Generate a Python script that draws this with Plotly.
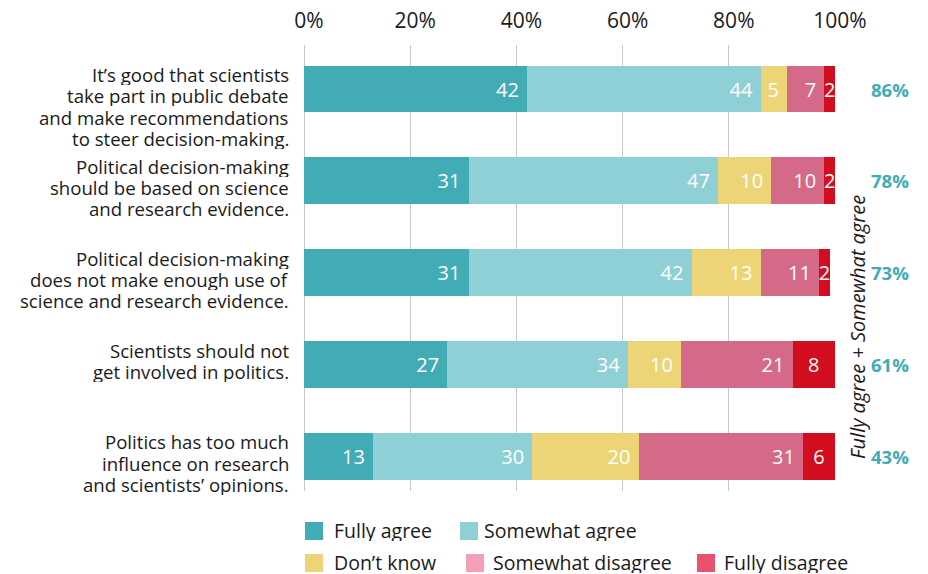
import plotly.graph_objects as go

# Survey statements (top to bottom), one list entry per printed line
statements = [
    ["It’s good that scientists", "take part in public debate",
     "and make recommendations", "to steer decision-making."],
    ["Political decision-making", "should be based on science",
     "and research evidence."],
    ["Political decision-making", "does not make enough use of",
     "science and research evidence."],
    ["Scientists should not", "get involved in politics."],
    ["Politics has too much", "influence on research",
     "and scientists’ opinions."],
]
row_ids = ["s1", "s2", "s3", "s4", "s5"]

# Response shares (%)
fully_agree = [42, 31, 31, 27, 13]
somewhat_agree = [44, 47, 42, 34, 30]
dont_know = [5, 10, 13, 10, 20]
somewhat_disagree = [7, 10, 11, 21, 31]
fully_disagree = [2, 2, 2, 8, 6]

# Fully agree + Somewhat agree
agree_total = [86, 78, 73, 61, 43]

response_names = ["Fully agree", "Somewhat agree", "Don’t know",
                  "Somewhat disagree", "Fully disagree"]
bar_colors = ["#41acb6", "#8fd0d6", "#edd577", "#d56a88", "#d10d1f"]
legend_colors = ["#41acb6", "#8fd0d6", "#edd577", "#f29fb7", "#e9526f"]

x_ticks = [0, 20, 40, 60, 80, 100]
x_tick_text = ["0%", "20%", "40%", "60%", "80%", "100%"]

FONT = "Open Sans"
TEXT_COLOR = "#1a1a1a"
NBSP = "\u00a0"

# Figure geometry (pixels)
W, H = 928, 574
L, R, T, B = 304, 93, 45, 83
PW, PH = W - L - R, H - T - B


def px_x(px):
    return (px - L) / PW


def px_y(py):
    return (H - B - py) / PH


fig = go.Figure()

series = [fully_agree, somewhat_agree, dont_know, somewhat_disagree, fully_disagree]
for i, (name, vals, color) in enumerate(zip(response_names, series, bar_colors)):
    last = i == len(series) - 1
    # a trailing no-break space keeps the numbers off the segment edge
    labels = [str(v) if last else str(v) + NBSP for v in vals]
    fig.add_trace(go.Bar(
        y=row_ids, x=vals, orientation="h", name=name,
        marker=dict(color=color, line=dict(width=0)),
        text=labels, textposition="inside",
        insidetextanchor="middle" if last else "end", constraintext="none",
        textfont=dict(family=FONT, size=20, color="white"),
        showlegend=False, hoverinfo="skip",
    ))

annotations = []
# Statement labels, first line level with the top of the bar
LINE_H = 21.3
for rid, lines in zip(row_ids, statements):
    for k, line in enumerate(lines):
        annotations.append(dict(
            x=px_x(291), xref="paper", y=rid, yref="y",
            xanchor="right", yanchor="middle", yshift=15 - LINE_H * k,
            height=22, valign="middle",
            text=line, showarrow=False,
            font=dict(family=FONT, size=18.6, color=TEXT_COLOR),
        ))

# Combined agreement share at the right
for rid, v in zip(row_ids, agree_total):
    annotations.append(dict(
        x=px_x(890), xref="paper", y=rid, yref="y",
        xanchor="center", yanchor="middle",
        text=f"<b>{v}%</b>", showarrow=False,
        font=dict(family=FONT, size=18.5, color="#41acb6"),
    ))

annotations.append(dict(
    x=px_x(857), xref="paper", y=px_y(327), yref="paper",
    xanchor="center", yanchor="middle", textangle=-90,
    text="<i>Fully agree + Somewhat agree</i>", showarrow=False,
    font=dict(family=FONT, size=20, color=TEXT_COLOR),
))

# Legend drawn as swatches and labels in two rows
legend_layout = [
    (305, 531, 332), (460, 531, 482),
    (305, 563, 332), (466, 563, 491), (697, 563, 722),
]
shapes = []
for (sx, sy, tx), name, color in zip(legend_layout, response_names, legend_colors):
    shapes.append(dict(
        type="rect", xref="paper", yref="paper",
        x0=px_x(sx), x1=px_x(sx + 18), y0=px_y(sy + 9), y1=px_y(sy - 9),
        fillcolor=color, line=dict(width=0), layer="above",
    ))
    annotations.append(dict(
        x=px_x(tx), xref="paper", y=px_y(sy - 1), yref="paper",
        xanchor="left", yanchor="middle", text=name, showarrow=False,
        height=22, valign="middle",
        font=dict(family=FONT, size=19.5, color=TEXT_COLOR),
    ))

fig.update_layout(
    width=W, height=H,
    margin=dict(l=L, r=R, t=T, b=B, pad=0, autoexpand=False),
    barmode="stack", bargap=0.49,
    plot_bgcolor="white", paper_bgcolor="white",
    font=dict(family=FONT, color=TEXT_COLOR),
    xaxis=dict(
        side="top", range=[0, 100], tickvals=x_ticks, ticktext=x_tick_text,
        showgrid=True, gridcolor="#c5c9cb", gridwidth=1,
        zeroline=True, zerolinecolor="#c5c9cb", zerolinewidth=1,
        showline=False, ticks="", ticklabelstandoff=12, ticklabelshift=5,
        automargin=False,
        tickfont=dict(family=FONT, size=21, color=TEXT_COLOR),
        fixedrange=True,
    ),
    yaxis=dict(
        type="category", categoryorder="array", categoryarray=row_ids,
        range=[4.376, -0.479], showticklabels=False, showgrid=False,
        zeroline=False, showline=False, ticks="", fixedrange=True,
        automargin=False,
    ),
    annotations=annotations,
    shapes=shapes,
)

fig.write_html("out.html")
